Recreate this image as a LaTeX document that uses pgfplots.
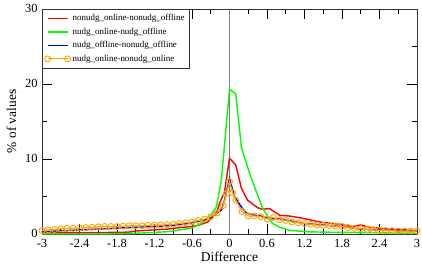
\documentclass[border=0pt]{standalone}
\usepackage{fontspec}
\setmainfont{Liberation Serif}
\usepackage{pgfplots}
\pgfplotsset{compat=1.18}
\definecolor{gorange}{RGB}{255,165,0}
\pgfplotsset{markleg/.style={legend image code/.code={\draw[##1] plot coordinates {(0bp,0bp) (20bp,0bp)};}}}
\begin{document}
\begin{tikzpicture}
\begin{axis}[name=ax, scale only axis, width=375bp, height=225bp,
  xmin=-3, xmax=3, ymin=0, ymax=30,
  xtick={-3,-2.4,-1.8,-1.2,-0.6,0,0.6,1.2,1.8,2.4,3},
  xticklabels={-3,-2.4,-1.8,-1.2,-0.6,0,0.6,1.2,1.8,2.4,3},
  minor x tick num=1,
  ytick={0,10,20,30}, yticklabels={0,10,20,30},
  minor y tick num=1,
  tick align=inside, major tick length=10bp, minor tick length=5bp,
  axis line style={black!80, line width=0.8bp},
  tick style={black, line width=0.8bp},
  xlabel={Difference}, ylabel={\% of values},
  label style={font=\fontsize{13.5}{15}\selectfont},
  tick label style={font=\fontsize{12.5}{14}\selectfont},
  xticklabel style={yshift=-1.5bp},
  yticklabel style={xshift=-1bp, yshift=1bp},
  xlabel style={yshift=2bp},
  ylabel style={yshift=2bp},
  legend style={at={(0,1)}, anchor=north west, font=\fontsize{9}{13}\selectfont,
    draw=black!80, inner sep=2.5bp,
    nodes={text height=7bp, text depth=2.5bp}},
  legend cell align=left,
  legend image code/.code={\draw[#1] (0bp,0bp) -- (20bp,0bp);},
]
\addplot[gray, line width=1.5bp, forget plot] coordinates {(0,0) (0,30)};
\addplot[draw=red, line width=1.4bp] coordinates {
(-3,0.15) (-2.5,0.15) (-2,0.2) (-1.6,0.25) (-1.5,0.4) (-1.3,0.5) (-1.0,0.65) (-0.8,0.85)
(-0.6,1.0) (-0.48,1.2) (-0.35,1.6) (-0.27,2.3) (-0.2,3.0) (-0.16,4.1) (-0.08,5.6) (0,10.1)
(0.1,9.2) (0.19,6.1) (0.29,4.5) (0.45,3.5) (0.53,3.3) (0.64,3.4) (0.8,2.5) (0.96,2.4)
(1.17,2.1) (1.44,1.6) (1.76,1.3) (1.97,1.0) (2.1,1.2) (2.24,0.9) (2.5,0.7) (3,0.45)};
\addlegendentry{nonudg\_online-nonudg\_offline}
\addplot[draw=green, line width=1.4bp] coordinates {
(-3,0) (-2,0) (-1.5,0.1) (-1.0,0.3) (-0.6,0.8) (-0.45,1.4) (-0.37,1.9) (-0.3,2.5)
(-0.21,3.6) (-0.13,7.2) (0,19.3) (0.1,18.7) (0.19,11.6) (0.32,8.1) (0.53,3.4) (0.69,1.4)
(0.8,0.9) (0.96,0.5) (1.23,0.3) (1.5,0.25) (2,0.2) (2.5,0.15) (3,0.1)};
\addlegendentry{nudg\_online-nudg\_offline}
\addplot[draw=blue, line width=1.4bp] coordinates {
(-3,0.3) (-2.5,0.5) (-2,0.7) (-1.5,0.9) (-1.2,1.0) (-1,1.1) (-0.8,1.25) (-0.6,1.5)
(-0.4,1.9) (-0.3,2.2) (-0.2,2.8) (-0.13,3.2) (-0.08,4.5) (0,7.4) (0.08,5.0) (0.19,3.6)
(0.27,2.8) (0.4,2.5) (0.5,2.4) (0.6,2.1) (0.8,2.0) (1.0,1.7) (1.2,1.4) (1.5,1.2)
(1.8,1.0) (2.0,0.75) (2.2,0.6) (2.5,0.5) (2.8,0.45) (3,0.4)};
\addlegendentry{nudg\_offline-nonudg\_offline}
\addplot[color=gorange, line width=1.2bp, mark=o, mark size=3bp, mark options={line width=0.9bp},
  markleg] coordinates {
(-3,0.45) (-2.9,0.55) (-2.8,0.6) (-2.7,0.7) (-2.6,0.75) (-2.5,0.75) (-2.4,0.8) (-2.3,0.85)
(-2.2,0.9) (-2.1,0.95) (-2.0,1.0) (-1.9,1.0) (-1.8,1.0) (-1.7,1.05) (-1.6,1.1) (-1.5,1.1)
(-1.4,1.1) (-1.3,1.15) (-1.2,1.2) (-1.1,1.2) (-1.0,1.25) (-0.9,1.3) (-0.8,1.4) (-0.7,1.5)
(-0.6,1.6) (-0.5,1.8) (-0.4,2.0) (-0.3,2.3) (-0.2,2.8) (-0.1,3.8) (-0.05,5.4) (0,7.0)
(0.05,5.5) (0.1,4.5) (0.2,3.0) (0.3,2.4) (0.4,2.4) (0.5,2.3) (0.6,2.0) (0.7,2.2)
(0.8,1.9) (0.9,1.8) (1.0,1.6) (1.1,1.5) (1.2,1.4) (1.3,1.3) (1.4,1.2) (1.5,1.15)
(1.6,1.1) (1.7,1.05) (1.8,1.0) (1.9,0.85) (2.0,0.75) (2.1,0.7) (2.2,0.6) (2.3,0.55)
(2.4,0.5) (2.5,0.45) (2.6,0.45) (2.7,0.4) (2.8,0.4) (2.9,0.4) (3.0,0.4)};
\addlegendentry{nudg\_online-nonudg\_online}
\end{axis}
\pgfresetboundingbox
\path ([xshift=-42bp,yshift=-32bp]ax.south west) rectangle ([xshift=5bp,yshift=9bp]ax.north east);
\end{tikzpicture}
\end{document}
